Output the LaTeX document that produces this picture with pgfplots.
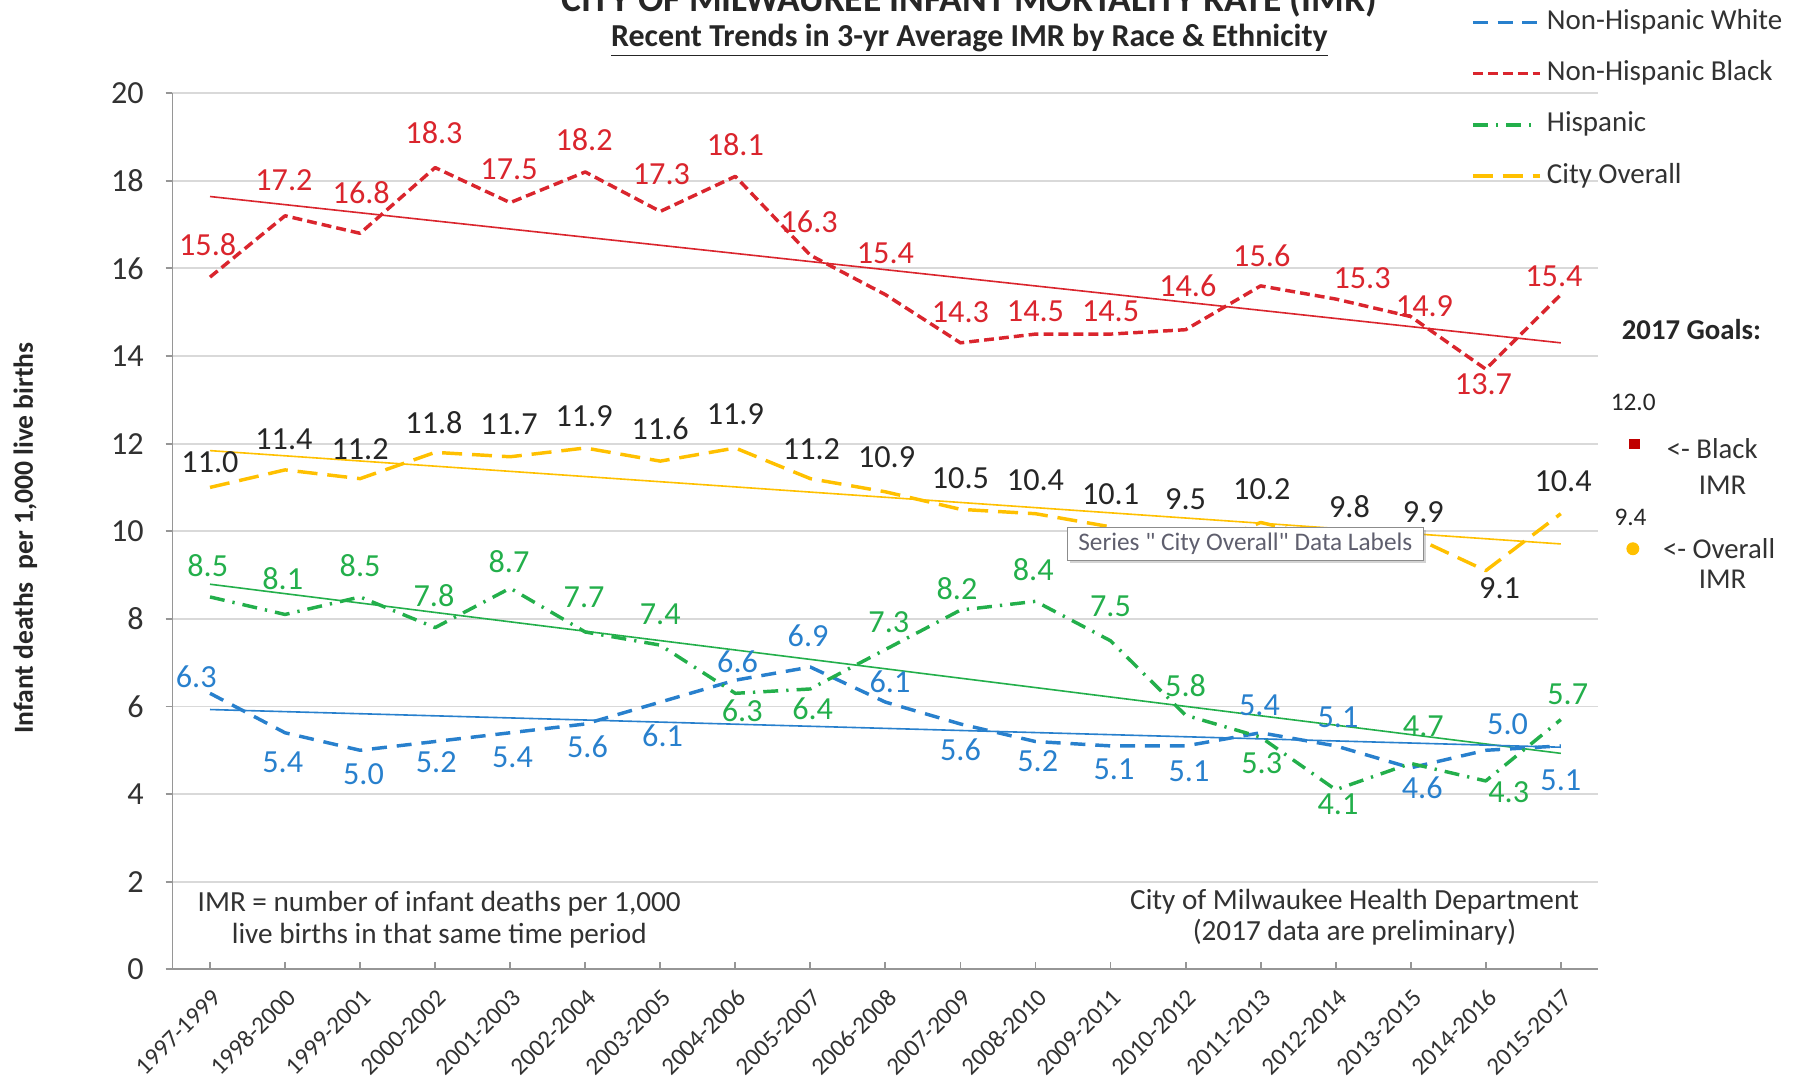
\documentclass[border=0pt]{standalone}
\usepackage{pgfplots}
\pgfplotsset{compat=1.18}
\usepackage{pgfplotstable}
\usepackage{fontspec}
\setmainfont{Carlito}
\usetikzlibrary{shadows}

\definecolor{cRed}{RGB}{218,37,45}
\definecolor{cBlue}{RGB}{40,128,205}
\definecolor{cGreen}{RGB}{35,175,75}
\definecolor{cGold}{RGB}{255,192,0}
\definecolor{cGoalRed}{RGB}{192,0,0}
\definecolor{cTxt}{RGB}{38,38,38}
\definecolor{cTick}{RGB}{50,50,50}
\definecolor{cAxis}{RGB}{150,150,150}
\definecolor{cGrid}{RGB}{217,217,217}
\definecolor{cTip}{RGB}{95,95,110}

% x = period index, y = 3-yr IMR, dx/dy = label offset (pt)
\pgfplotstableread{
x y dx dy
0 6.3 -6 7
1 5.4 -1 -13
2 5.0 1.5 -10.5
3 5.2 0.5 -9
4 5.4 1 -10.5
5 5.6 1 -10
6 6.1 1 -14.5
7 6.6 1 8
8 6.9 -1 13.5
9 6.1 2 9
10 5.6 0 -11
11 5.2 1 -8.5
12 5.1 1.5 -10
13 5.1 1.5 -11
14 5.4 -0.5 12
15 5.1 1 12.5
16 4.6 5 -8.5
17 5.0 9.5 11.5
18 5.1 0 -15
}\tWhite

\pgfplotstableread{
x y dx dy
0 15.8 -1 14
1 17.2 -0.5 15.5
2 16.8 0.5 17.5
3 18.3 -0.5 15
4 17.5 -0.5 14.5
5 18.2 -0.5 14
6 17.3 0.5 16
7 18.1 0 14
8 16.3 -0.5 14.5
9 15.4 0 18
10 14.3 0 13.5
11 14.5 0 10
12 14.5 0 10
13 14.6 1 19
14 15.6 0.5 13
15 15.3 11.5 9
16 14.9 6 4.5
17 13.7 -1 -6.5
18 15.4 -3 8
}\tBlack

\pgfplotstableread{
x y dx dy
0 8.5 -1 13.5
1 8.1 -1 15.5
2 8.5 0 13.5
3 7.8 -0.5 14
4 8.7 -0.5 11.5
5 7.7 -0.5 15
6 7.4 0 13.5
7 6.3 3 -7.5
8 6.4 1 -8.5
9 7.3 1.5 12
10 8.2 -1.5 9.5
11 8.4 -1 14
12 7.5 0 15
13 5.8 0 13
14 5.3 0.5 -11.5
15 4.1 1 -6.5
16 4.7 5.5 16
17 4.3 10 -5
18 5.7 3 11
}\tHisp

\pgfplotstableread{
x y dx dy
0 11.0 0 11
1 11.4 -0.5 13.5
2 11.2 0 13
3 11.8 -0.5 13
4 11.7 -0.5 14
5 11.9 -0.5 14
6 11.6 0 14
7 11.9 0 14.5
8 11.2 0.5 13
9 10.9 0.5 15
10 10.5 0 13.5
11 10.4 0 14.5
12 10.1 0 14
13 9.5 0 23.5
14 10.2 0.5 14.5
15 9.8 6 14.5
16 9.9 5.5 10
17 9.1 6 -7.5
18 10.4 1 14
}\tOverall

\newcommand{\fs}[1]{\fontsize{#1}{#1}\selectfont}

\pgfplotsset{
  lbl/.style={forget plot, draw=none,
    nodes near coords={\pgfplotspointmeta}, point meta=explicit symbolic,
    visualization depends on={\thisrow{dx} \as \ldx},
    visualization depends on={\thisrow{dy} \as \ldy},
    every node near coord/.append style={font=\fs{14}, anchor=center, xshift=\ldx, yshift=\ldy, text=#1}},
}

\begin{document}
\begin{tikzpicture}
\path[use as bounding box] (-75pt,-46.5pt) rectangle (709pt,421.5pt);
\begin{axis}[
  at={(0,0)}, anchor=south west,
  scale only axis, width=620pt, height=381pt,
  clip=false,
  xmin=-0.5, xmax=18.5, ymin=0, ymax=20,
  xtick={0,...,18},
  xticklabels={1997-1999,1998-2000,1999-2001,2000-2002,2001-2003,2002-2004,2003-2005,2004-2006,2005-2007,2006-2008,2007-2009,2008-2010,2009-2011,2010-2012,2011-2013,2012-2014,2013-2015,2014-2016,2015-2017},
  ytick={0,2,...,20},
  axis lines*=left,
  axis line style={draw=cAxis, line width=0.8pt},
  tick style={draw=cAxis, line width=0.8pt},
  major tick length=3pt,
  tick align=outside,
  x tick style={yshift=3pt},
  ymajorgrids, grid style={draw=cGrid, line width=0.8pt},
  /pgf/number format/assume math mode=true,
  yticklabel style={font=\fs{14}, text=cTick, anchor=east, xshift=-6pt},
  xticklabel style={font=\fs{10.8}, text=cTick, xshift=3pt, yshift=-7.5pt, rotate=45, anchor=east, inner sep=0pt},
  legend style={at={(0.9056,1.1050)}, anchor=north west, draw=none, fill=none,
    font=\fs{12.6}, text=cTick, row sep=8.3pt, column sep=1.5pt,
    nodes={inner sep=1pt, text height=9pt, text depth=3pt}},
  legend cell align=left,
  legend image code/.code={\draw[#1] (0pt,0pt) -- (29pt,0pt);},
]
% trend lines
\addplot[forget plot, cRed, line width=0.7pt] coordinates {(0,17.64) (18,14.30)};
\addplot[forget plot, cGold, line width=0.7pt] coordinates {(0,11.84) (18,9.71)};
\addplot[forget plot, cGreen, line width=0.7pt] coordinates {(0,8.79) (18,4.93)};
\addplot[forget plot, cBlue, line width=0.7pt] coordinates {(0,5.93) (18,5.07)};

% series
\addplot[cBlue, line width=1.5pt, dash pattern=on 6.5pt off 4.3pt, line join=round] table[x=x,y=y] {\tWhite};
\addlegendentry{Non-Hispanic White}
\addplot[cRed, line width=1.5pt, dash pattern=on 4.3pt off 2.2pt, line join=round] table[x=x,y=y] {\tBlack};
\addlegendentry{Non-Hispanic Black}
\addplot[cGreen, line width=1.5pt, dash pattern=on 6.5pt off 3.5pt on 1pt off 3.5pt, line join=round] table[x=x,y=y] {\tHisp};
\addlegendentry{Hispanic}
\addplot[cGold, line width=1.5pt, dash pattern=on 8.7pt off 4.3pt, line join=round] table[x=x,y=y] {\tOverall};
\addlegendentry{City Overall}

% data labels
\addplot[lbl=cBlue] table[x=x,y=y,meta=y] {\tWhite};
\addplot[lbl=cRed] table[x=x,y=y,meta=y] {\tBlack};
\addplot[lbl=cGreen] table[x=x,y=y,meta=y] {\tHisp};
\addplot[lbl=cTxt] table[x=x,y=y,meta=y] {\tOverall};

% 2017 goals
\addplot[forget plot, only marks, mark=square*, mark size=2pt, cGoalRed,
  nodes near coords={\pgfplotspointmeta}, point meta=explicit symbolic,
  every node near coord/.append style={text=cTxt, font=\fs{11}, anchor=center, xshift=-0.5pt, yshift=18pt}]
  table[x=x,y=y,meta=lab] {
x y lab
18.98 12.0 12.0
};
\addplot[forget plot, only marks, mark=*, mark size=2.6pt, cGold,
  nodes near coords={\pgfplotspointmeta}, point meta=explicit symbolic,
  every node near coord/.append style={text=cTxt, font=\fs{11}, anchor=center, xshift=-1pt, yshift=13.5pt}]
  table[x=x,y=y,meta=lab] {
x y lab
18.96 9.6 9.4
};
\end{axis}

% titles
\node[font=\bfseries\fs{16.3}, text=cTxt, anchor=base] at (346.5pt,416.5pt) {CITY OF MILWAUKEE INFANT MORTALITY RATE (IMR)};
\node[font=\bfseries\fs{13.9}, text=cTxt] at (346.5pt,404pt) {\underline{Recent Trends in 3-yr Average IMR by Race \& Ethnicity}};
% y label
\node[font=\bfseries\fs{12}, text=cTxt, rotate=90] at (-64pt,187.5pt) {Infant deaths~~per 1,000 live births};
% notes
\node[font=\fs{12.7}, text=cTick] at (116pt,28.5pt) {IMR = number of infant deaths per 1,000};
\node[font=\fs{12.7}, text=cTick] at (116pt,14.5pt) {live births in that same time period};
\node[font=\fs{12.7}, text=cTick] at (514pt,29.5pt) {City of Milwaukee Health Department};
\node[font=\fs{12.7}, text=cTick] at (514pt,16pt) {(2017 data are preliminary)};
% goals text
\node[font=\bfseries\fs{12.5}, text=cTxt] at (660.5pt,278pt) {2017 Goals:};
\node[font=\fs{12.5}, text=cTick] at (669.5pt,226.5pt) {<- Black};
\node[font=\fs{12.5}, text=cTick] at (674pt,210.5pt) {IMR};
\node[font=\fs{12.5}, text=cTick] at (672.5pt,183pt) {<- Overall};
\node[font=\fs{12.5}, text=cTick] at (674pt,169.5pt) {IMR};
% tooltip
\node[draw=black!45, fill=white, drop shadow={shadow xshift=1.2pt, shadow yshift=-1.2pt, opacity=0.35},
  minimum width=155pt, minimum height=14.5pt, inner sep=0pt, font=\fs{11}, text=cTip]
  at (466.5pt,185pt) {Series \textquotedbl{} City Overall\textquotedbl{} Data Labels};
\end{tikzpicture}
\end{document}
